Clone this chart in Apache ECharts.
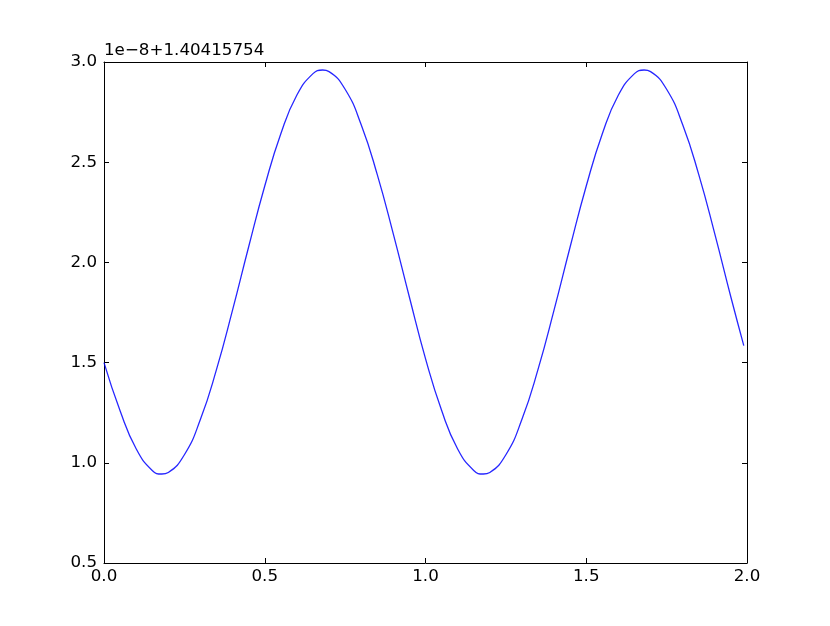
<!DOCTYPE html>
<html>
<head>
<meta charset="utf-8">
<script src="https://cdn.jsdelivr.net/npm/echarts@6/dist/echarts.min.js"></script>
<style>html,body{margin:0;padding:0;background:#fff;}#c{width:830px;height:626px;}</style>
</head>
<body>
<div id="c"></div>
<script>
const xValues = [0.00, 0.05, 0.10, 0.15, 0.18, 0.20, 0.25, 0.30, 0.35, 0.40, 0.45, 0.50, 0.55, 0.60, 0.65, 0.68, 0.70, 0.75, 0.80, 0.85, 0.90, 0.95,
                 1.00, 1.05, 1.10, 1.15, 1.18, 1.20, 1.25, 1.30, 1.35, 1.40, 1.45, 1.50, 1.55, 1.60, 1.65, 1.68, 1.70, 1.75, 1.80, 1.85, 1.90, 1.95, 1.99];
const yValues = [1.50, 1.26, 1.07, 0.962, 0.944, 0.952, 1.04, 1.217, 1.466, 1.763, 2.078, 2.381, 2.642, 2.835, 2.942, 2.96, 2.952, 2.864, 2.687, 2.438, 2.141, 1.826,
                 1.52, 1.262, 1.069, 0.962, 0.944, 0.952, 1.04, 1.217, 1.466, 1.763, 2.078, 2.381, 2.642, 2.835, 2.942, 2.96, 2.952, 2.864, 2.687, 2.438, 2.141, 1.826, 1.585];
const xTicks = [0.0, 0.5, 1.0, 1.5, 2.0];
const yTicks = [0.5, 1.0, 1.5, 2.0, 2.5, 3.0];
const offsetText = "1e\u22128+1.40415754";

const font = 'DejaVu Sans';
const fs = 16.7;
const chart = echarts.init(document.getElementById('c'), null, {renderer: 'canvas'});
const axisCommon = {
  type: 'value',
  splitLine: {show: false},
  axisLine: {show: true, onZero: false, lineStyle: {color: '#000', width: 1}},
  axisTick: {show: true, inside: true, length: 5, lineStyle: {color: '#000', width: 1}},
};
chart.setOption({
  animation: false,
  grid: {left: 104, top: 62, right: 83, bottom: 63, show: false},
  graphic: [{
    type: 'text', left: 104, top: 42,
    style: {text: offsetText, font: fs + 'px "' + font + '"', fill: '#000'}
  }],
  xAxis: [
    Object.assign({}, axisCommon, {
      position: 'bottom', min: xTicks[0], max: xTicks[xTicks.length - 1], interval: 0.5,
      axisLabel: {color: '#000', fontFamily: font, fontSize: fs, margin: 5, formatter: v => v.toFixed(1)}
    }),
    Object.assign({}, axisCommon, {
      position: 'top', min: xTicks[0], max: xTicks[xTicks.length - 1], interval: 0.5,
      axisLabel: {show: false}
    })
  ],
  yAxis: [
    Object.assign({}, axisCommon, {
      position: 'left', min: yTicks[0], max: yTicks[yTicks.length - 1], interval: 0.5,
      axisLabel: {color: '#000', fontFamily: font, fontSize: fs, margin: 7, formatter: v => v.toFixed(1)}
    }),
    Object.assign({}, axisCommon, {
      position: 'right', min: yTicks[0], max: yTicks[yTicks.length - 1], interval: 0.5,
      axisLabel: {show: false}
    })
  ],
  series: [{
    type: 'line',
    data: xValues.map((x, i) => [x, yValues[i]]),
    smooth: true,
    showSymbol: false,
    lineStyle: {color: '#0000ff', width: 1.3, opacity: 0.85},
    xAxisIndex: 0, yAxisIndex: 0
  }]
});
</script>
</body>
</html>
